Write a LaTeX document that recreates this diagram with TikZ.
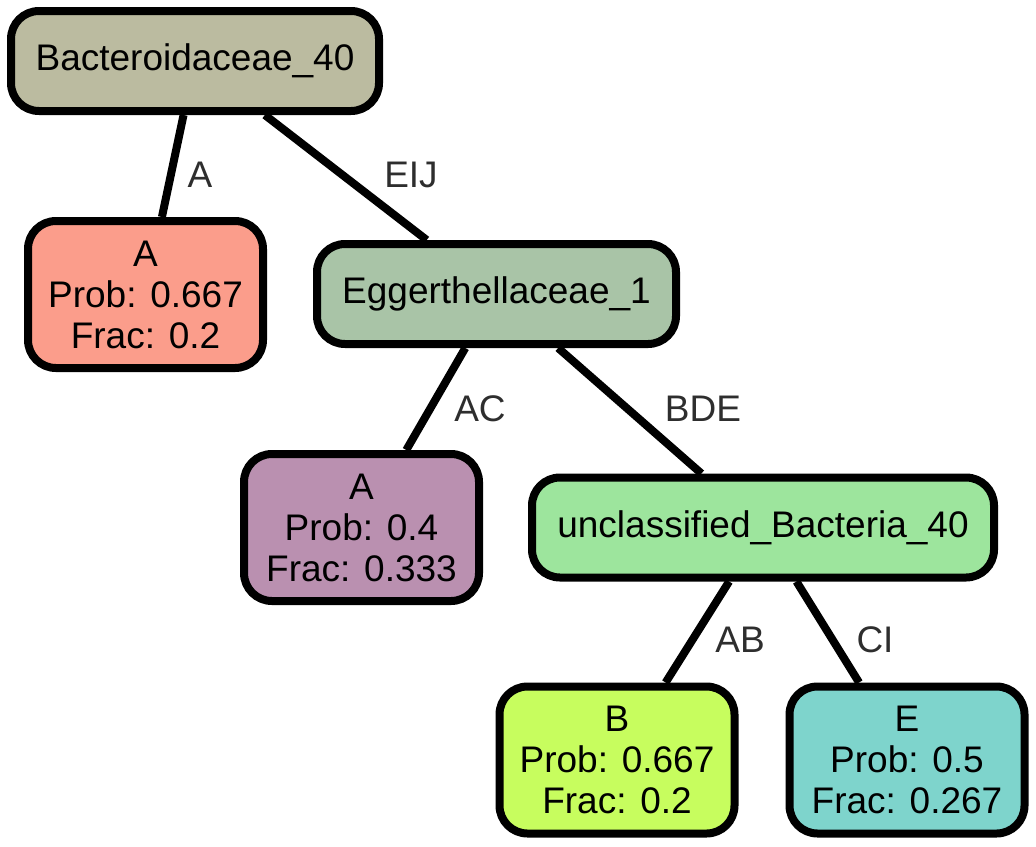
\documentclass[tikz,border=0pt]{standalone}
\usepackage{fontspec}
\setmainfont{Liberation Sans}
\definecolor{cBac}{HTML}{BBBBA0}
\definecolor{cEgg}{HTML}{A9C4A7}
\definecolor{cA1}{HTML}{FB9D8B}
\definecolor{cA2}{HTML}{BA90B0}
\definecolor{cUnc}{HTML}{9DE59D}
\definecolor{cB}{HTML}{C7FD5E}
\definecolor{cE}{HTML}{7ED4CC}
\definecolor{lbl}{HTML}{2E2E2E}
\begin{document}
\begin{tikzpicture}[x=0.5pt,y=-0.5pt,
  box/.style={draw=black, line width=4pt, rounded corners=14pt, inner sep=0pt,
    align=center, font=\fontsize{18.5}{20.5}\selectfont},
  onebox/.style={box, minimum height=50pt},
  leafbox/.style={box, minimum width=117.5pt, minimum height=73.5pt},
  edge/.style={line width=4pt},
  elabel/.style={text=lbl, inner sep=0pt, font=\fontsize{18.5}{20}\selectfont}]
\useasboundingbox (0,0) rectangle (1036,846);
\node[onebox, fill=cBac, minimum width=184pt] (bac) at (195,61) {Bacteroidaceae\_40};
\node[leafbox, fill=cA1] (a1) at (145.5,294.5) {A\\Prob: 0.667\\Frac: 0.2};
\node[onebox, fill=cEgg, minimum width=179.5pt] (egg) at (496.5,294) {Eggerthellaceae\_1};
\node[leafbox, fill=cA2] (a2) at (361.5,527.5) {A\\Prob: 0.4\\Frac: 0.333};
\node[onebox, fill=cUnc, minimum width=231pt] (unc) at (763,527.5) {unclassified\_Bacteria\_40};
\node[leafbox, fill=cB] (b) at (617,760) {B\\Prob: 0.667\\Frac: 0.2};
\node[leafbox, fill=cE] (e) at (907,760) {E\\Prob: 0.5\\Frac: 0.267};
\draw[edge] (bac) -- (a1);
\draw[edge] (bac) -- (egg);
\draw[edge] (egg) -- (a2);
\draw[edge] (egg) -- (unc);
\draw[edge] (unc) -- (b);
\draw[edge] (unc) -- (e);
\node[elabel] (lA) at (200,175) {A};
\node[elabel] (lEIJ) at (411,175) {EIJ};
\node[elabel] (lAC) at (480,409) {AC};
\node[elabel] (lBDE) at (703,409) {BDE};
\node[elabel] (lAB) at (740,640) {AB};
\node[elabel] (lCI) at (875,640) {CI};
\end{tikzpicture}
\end{document}
